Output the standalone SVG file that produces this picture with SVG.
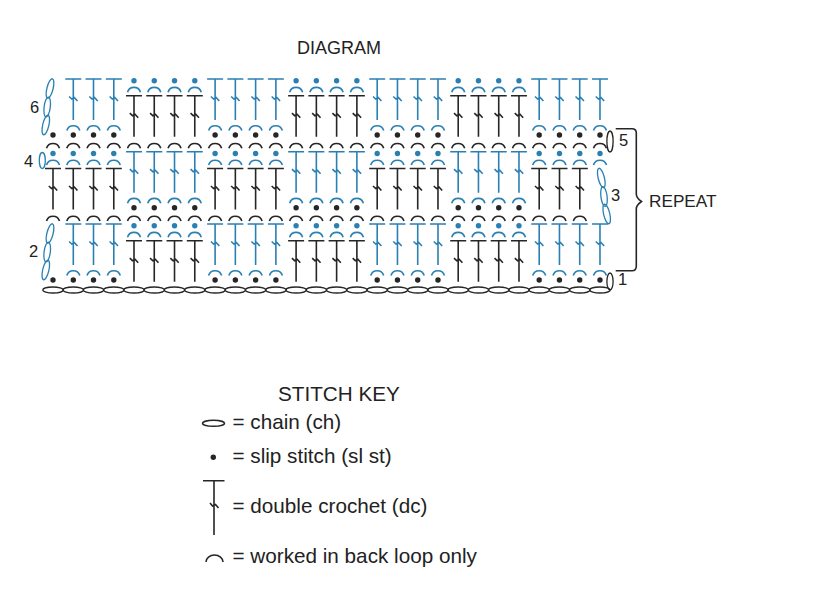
<svg xmlns="http://www.w3.org/2000/svg" width="817" height="597" viewBox="0 0 817 597">
<style>
text{font-family:"Liberation Sans",Arial,sans-serif;fill:#222}
.b{color:#2b80b3}
.k{color:#262626}
.ln{fill:none;stroke:currentColor;stroke-width:1.6}
.thin{fill:none;stroke:currentColor;stroke-width:1.3}
.dt{fill:currentColor;stroke:none}
.num{font-size:16.5px}
.key{font-size:20.7px}
</style>
<defs>
<path id="stem" class="ln" d="M-8 0H8M0 0V41M-4.2 17.5L-1.5 20L1 18.5L4.2 22"/>
<path id="arc" class="ln" d="M-6.5 0A6.8 6.8 0 0 1 6.5 0"/>
<circle id="dot" class="dt" r="2.7"/>
<ellipse id="link" class="thin" rx="3.1" ry="10"/>
<g id="cT"><use href="#stem" class="b"/><use href="#arc" y="51.5" class="b"/><use href="#dot" y="56" class="k"/></g>
<g id="cK"><use href="#dot" class="b"/><use href="#arc" y="11.5" class="b"/><use href="#stem" y="15" class="k"/></g>
<g id="cT4"><use href="#cT"/><use href="#cT" x="20.26"/><use href="#cT" x="40.52"/><use href="#cT" x="60.78"/></g>
<g id="cK4"><use href="#cK"/><use href="#cK" x="20.26"/><use href="#cK" x="40.52"/><use href="#cK" x="60.78"/></g>
<g id="arc4"><use href="#arc"/><use href="#arc" x="20.26"/><use href="#arc" x="40.52"/><use href="#arc" x="60.78"/></g>
<g id="turn"><use href="#link" transform="translate(50 88.5) rotate(14)"/><use href="#link" transform="translate(47.2 107) rotate(7)"/><use href="#link" transform="translate(45.8 125) rotate(13)"/></g>
<ellipse id="ch" class="thin" rx="10.2" ry="3"/>
<g id="ch4"><use href="#ch"/><use href="#ch" x="20.26"/><use href="#ch" x="40.52"/><use href="#ch" x="60.78"/></g>
</defs>

<g id="title"><text x="297" y="54" font-size="18">DIAGRAM</text></g>

<g id="row-6" transform="translate(0 79)">
<use href="#dot" x="53" y="56" class="k"/>
<use href="#cT" x="73.3"/><use href="#cT" x="93.5"/><use href="#cT" x="113.8"/>
<use href="#cK4" x="134" y="1.7"/><use href="#cT4" x="215.1"/><use href="#cK4" x="296.1" y="1.7"/><use href="#cT4" x="377.2"/><use href="#cK4" x="458.2" y="1.7"/><use href="#cT4" x="539.2"/>
</g>
<g id="row-5-arcs" class="k" transform="translate(0 148.3)">
<use href="#arc4" x="53"/><use href="#arc4" x="134"/><use href="#arc4" x="215.1"/><use href="#arc4" x="296.1"/><use href="#arc4" x="377.2"/><use href="#arc4" x="458.2"/><use href="#arc4" x="539.2"/>
</g>
<g id="row-4" transform="translate(0 151.7)">
<use href="#cK4" x="53" y="1.8"/><use href="#cT4" x="134"/><use href="#cK4" x="215.1" y="1.8"/><use href="#cT4" x="296.1"/><use href="#cK4" x="377.2" y="1.8"/><use href="#cT4" x="458.2"/>
<use href="#cK" x="539.2" y="1.8"/><use href="#cK" x="559.5" y="1.8"/><use href="#cK" x="579.8" y="1.8"/>
<use href="#dot" x="600" y="1.8" class="b"/><use href="#arc" x="600" y="13.3" class="b"/>
</g>
<g id="row-3-arcs" class="k" transform="translate(0 221)">
<use href="#arc4" x="53"/><use href="#arc4" x="134"/><use href="#arc4" x="215.1"/><use href="#arc4" x="296.1"/><use href="#arc4" x="377.2"/><use href="#arc4" x="458.2"/>
<use href="#arc" x="539.2"/><use href="#arc" x="559.5"/><use href="#arc" x="579.8"/>
</g>
<g id="row-2" transform="translate(0 224)">
<use href="#dot" x="53" y="56" class="k"/>
<use href="#cT" x="73.3"/><use href="#cT" x="93.5"/><use href="#cT" x="113.8"/>
<use href="#cK4" x="134" y="1.7"/><use href="#cT4" x="215.1"/><use href="#cK4" x="296.1" y="1.7"/><use href="#cT4" x="377.2"/><use href="#cK4" x="458.2" y="1.7"/><use href="#cT4" x="539.2"/>
</g>
<g id="turning-chains" class="b">
<use href="#turn"/>
<use href="#turn" y="145"/>
<ellipse class="thin" cx="42.3" cy="160.5" rx="3" ry="8"/>
<use href="#link" transform="translate(601.3 178) rotate(-14)"/>
<use href="#link" transform="translate(604 196.5) rotate(-7)"/>
<use href="#link" transform="translate(606.7 214) rotate(-13)"/>
</g>
<g id="turning-chains-black" class="k">
<ellipse class="thin" cx="610" cy="141.5" rx="3.1" ry="10.5"/>
<ellipse class="thin" cx="610" cy="281.5" rx="3.1" ry="8.5"/>
</g>
<g id="base-chain" class="k" transform="translate(0 290)">
<use href="#ch4" x="53"/><use href="#ch4" x="134"/><use href="#ch4" x="215.1"/><use href="#ch4" x="296.1"/><use href="#ch4" x="377.2"/><use href="#ch4" x="458.2"/><use href="#ch4" x="539.2"/>
</g>
<g id="row-numbers" class="num">
<text x="30" y="113">6</text>
<text x="24" y="166.7">4</text>
<text x="29" y="256.7">2</text>
<text x="619" y="145.7">5</text>
<text x="611" y="200.7">3</text>
<text x="618" y="285">1</text>
</g>
<g id="repeat">
<path d="M615.7 128.7H632Q636.3 128.7 636.3 133V194Q636.3 198 641.5 201.5Q636.3 205 636.3 209V266Q636.3 270.7 632 270.7H615.7" fill="none" stroke="#262626" stroke-width="1.6"/>
<text x="649" y="206.7" font-size="17.2">REPEAT</text>
</g>
<g id="stitch-key">
<text class="key" x="278" y="400.7">STITCH KEY</text>
<g id="key-chain" class="k"><ellipse class="ln" cx="213.5" cy="423.3" rx="11" ry="3"/><text class="key" x="232.5" y="429">= chain (ch)</text></g>
<g id="key-slip" class="k"><circle class="dt" cx="213.3" cy="457.3" r="2.7"/><text class="key" x="232.5" y="462.7">= slip stitch (sl st)</text></g>
<g id="key-dc" class="k"><path class="ln" d="M203 480.7H224.5M214 480.7V535M210 503L212.5 506L215.5 504.5L218.5 508"/><text class="key" x="232.5" y="513.3">= double crochet (dc)</text></g>
<g id="key-back" class="k"><path class="ln" d="M206 562A8.5 7 0 0 1 223 562"/><text class="key" x="232.5" y="562.7">= worked in back loop only</text></g>
</g>
</svg>
